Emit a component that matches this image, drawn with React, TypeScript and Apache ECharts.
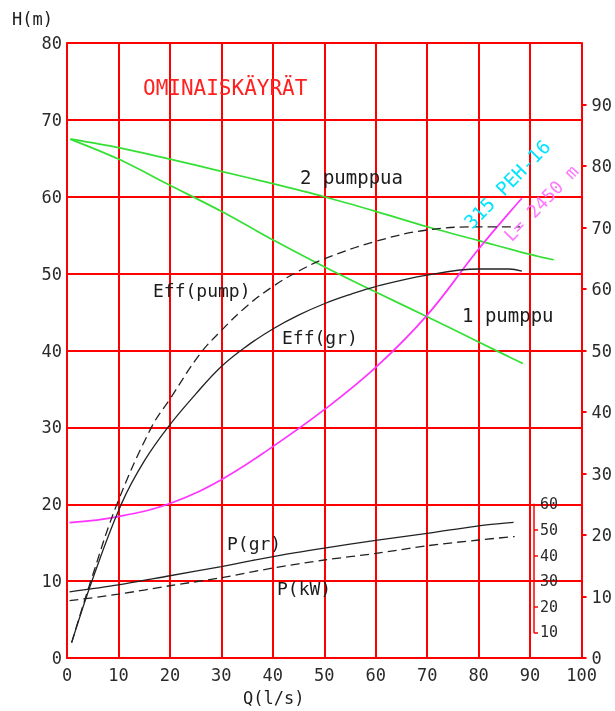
import React, { useEffect, useRef } from "react";
import * as echarts from "echarts";

// Head curves H(m) vs Q(l/s)
const headTwoQ = [0.8, 10, 20, 30, 40, 50, 60, 70, 80, 90, 94.6];
const headTwoH = [67.5, 66.4, 64.9, 63.3, 61.7, 60.0, 58.1, 56.1, 54.3, 52.5, 51.8];
const headOneQ = [0.6, 10, 20, 30, 40, 50, 60, 70, 80, 88.6];
const headOneH = [67.5, 64.9, 61.5, 58.1, 54.4, 50.9, 47.6, 44.4, 41.1, 38.3];
// System curve (315 PEH-16, L = 2450 m)
const systemQ = [0.5, 10, 20, 30, 40, 50, 60, 70, 80, 88.4];
const systemH = [17.6, 18.4, 20.1, 23.2, 27.5, 32.3, 37.8, 44.6, 53.2, 59.8];
// Efficiency curves (%), right axis
const effPumpQ = [0.9, 5, 9.75, 16.4, 20, 25.8, 30, 35, 40, 45, 50, 60, 70, 80, 88.1];
const effPumpPct = [2.5, 13.5, 25.1, 37.5, 42.1, 49.4, 53.25, 57.25, 60.4, 62.9, 64.9, 67.75, 69.6, 70.1, 70.1];
const effGrQ = [0.9, 5, 10.6, 15, 19.6, 25, 30, 35, 40, 45, 50, 55, 60, 70, 80, 85.9, 88.4];
const effGrPct = [2.5, 12.9, 25.1, 32, 37.5, 42.9, 47.4, 50.75, 53.5, 55.75, 57.6, 59.1, 60.4, 62.25, 63.25, 63.25, 62.9];
// Power curves (kW), small axis
const powerGrQ = [0.5, 10, 20, 30, 40, 50, 60, 70, 80, 86.8];
const powerGrKW = [25.8, 28.5, 32.1, 35.7, 39.6, 42.9, 45.9, 48.6, 51.6, 52.95];
const powerKwQ = [0.5, 10, 20, 30, 40, 50, 60, 70, 80, 87];
const powerKwKW = [22.35, 24.9, 28.2, 31.35, 35.1, 38.25, 40.8, 43.8, 46.05, 47.4];
// Right (efficiency) axis ticks shown
const rightTicks = [0, 10, 20, 30, 40, 50, 60, 70, 80, 90];

const pairs = (xs: number[], ys: number[]) => xs.map((x, i) => [x, ys[i]]);

const RED = "#ff0000";
const MONO = "DejaVu Sans Mono";
const INK = "#1c1c1c";

export default function App() {
  const ref = useRef<HTMLDivElement>(null);
  useEffect(() => {
    if (!ref.current) return;
    const chart = echarts.init(ref.current, undefined, { renderer: "svg" });
    const axisLabel = { color: "#2a2a2a", fontFamily: MONO, fontSize: 17 };
    const text = (t: string, x: number, y: number, opts: any = {}) => ({
      type: "text",
      x,
      y,
      rotation: opts.rotation || 0,
      z: 100,
      style: {
        text: t,
        fill: opts.fill || INK,
        font: `${opts.size || 18}px "${MONO}"`,
        align: opts.align || "left",
        verticalAlign: "middle",
      },
    });
    const rot = (46 * Math.PI) / 180;
    const curve = (name: string, xs: number[], ys: number[], yAxisIndex: number, color: string, dashed = false, smooth = 0.35) => ({
      type: "line",
      name,
      xAxisIndex: 0,
      yAxisIndex,
      data: pairs(xs, ys),
      smooth,
      symbol: "none",
      lineStyle: { color, width: color === "#222" ? 1.3 : 1.7, type: dashed ? [9, 5] : "solid" },
    });
    chart.setOption({
      animation: false,
      grid: [
        { left: 67, top: 43, right: 32, bottom: 53, containLabel: false },
        { left: 534, top: 504.25, width: 10, bottom: 78.6, containLabel: false },
      ],
      xAxis: [
        {
          type: "value",
          gridIndex: 0,
          min: 0,
          max: 100,
          interval: 10,
          axisLine: { lineStyle: { color: RED, width: 2 } },
          axisTick: { show: false },
          splitLine: { show: true, lineStyle: { color: RED, width: 2 } },
          axisLabel: { ...axisLabel, margin: 8 },
        },
        { type: "value", gridIndex: 1, min: 0, max: 1, show: false },
      ],
      yAxis: [
        {
          type: "value",
          gridIndex: 0,
          position: "left",
          min: 0,
          max: 80,
          interval: 10,
          axisLine: { show: true, lineStyle: { color: RED, width: 2 } },
          axisTick: { show: false },
          splitLine: { show: true, lineStyle: { color: RED, width: 2 } },
          axisLabel: { ...axisLabel, margin: 5 },
        },
        {
          type: "value",
          gridIndex: 0,
          position: "right",
          min: 0,
          max: 100,
          interval: 10,
          axisLine: { show: true, lineStyle: { color: RED, width: 2 } },
          axisTick: { show: true, length: 5, customValues: rightTicks, lineStyle: { color: RED, width: 2 } },
          splitLine: { show: false },
          axisLabel: { ...axisLabel, margin: 10, customValues: rightTicks },
        },
        { type: "value", gridIndex: 0, min: 0, max: 240, show: false },
        {
          type: "value",
          gridIndex: 1,
          position: "left",
          min: 10,
          max: 60,
          interval: 10,
          axisLine: { show: true, lineStyle: { color: RED, width: 1.5 } },
          axisTick: { show: true, inside: true, length: 4, lineStyle: { color: RED, width: 1.5 } },
          splitLine: { show: false },
          axisLabel: { inside: true, color: "#2a2a2a", fontFamily: MONO, fontSize: 15, margin: 6 },
        },
      ],
      series: [
        curve("2 pumppua", headTwoQ, headTwoH, 0, "#33e033", false, 0.3),
        curve("1 pumppu", headOneQ, headOneH, 0, "#33e033", false, 0.3),
        curve("315 PEH-16 L= 2450 m", systemQ, systemH, 0, "#ff33ff", false, 0.4),
        curve("Eff(pump)", effPumpQ, effPumpPct, 1, "#222", true, 0.4),
        curve("Eff(gr)", effGrQ, effGrPct, 1, "#222", false, 0.4),
        curve("P(gr)", powerGrQ, powerGrKW, 2, "#222", false, 0.3),
        curve("P(kW)", powerKwQ, powerKwKW, 2, "#222", true, 0.3),
      ],
      graphic: [
        text("H(m)", 12, 19, { size: 17 }),
        text("Q(l/s)", 243, 698, { size: 17 }),
        text("OMINAISKÄYRÄT", 143, 88, { size: 21, fill: "#ff2020" }),
        text("2 pumppua", 300, 177, { size: 19 }),
        text("1 pumppu", 462, 315, { size: 19 }),
        text("Eff(pump)", 153, 290),
        text("Eff(gr)", 282, 337),
        text("P(gr)", 227, 543),
        text("P(kW)", 277, 588),
        text("315 PEH-16", 507, 184, { align: "center", rotation: rot, fill: "#00e5ff", size: 19 }),
        text("L= 2450 m", 541, 203, { align: "center", rotation: rot, fill: "#ff77ff", size: 18 }),
      ],
    });
    return () => chart.dispose();
  }, []);
  return <div ref={ref} style={{ position: "fixed", left: 0, top: 0, width: 615, height: 711 }} />;
}
